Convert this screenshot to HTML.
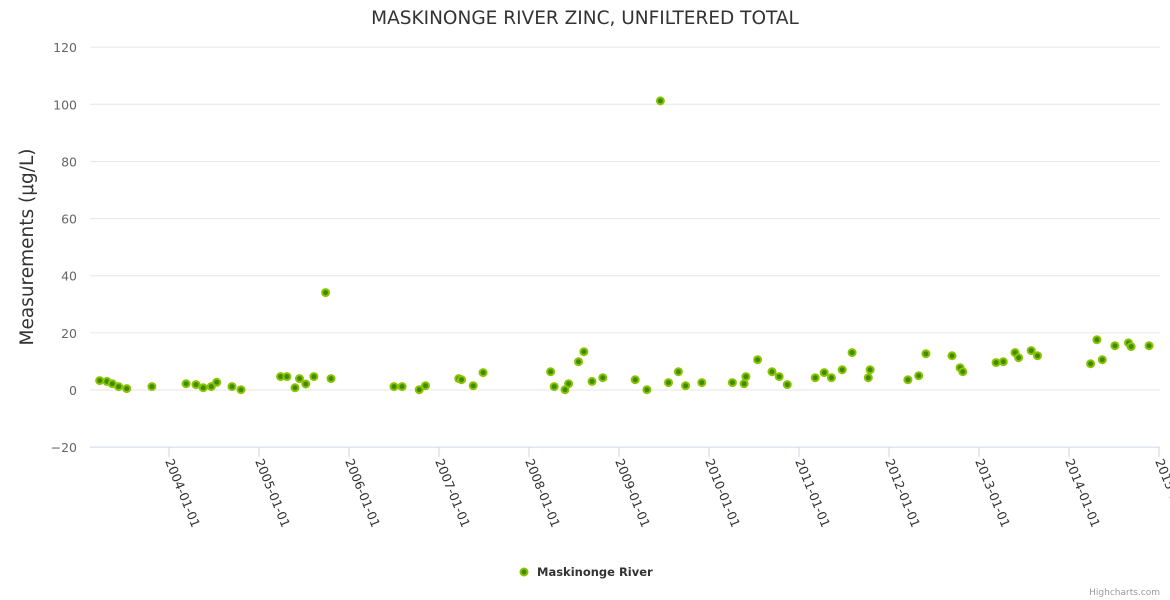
<!DOCTYPE html>
<html><head><meta charset="utf-8"><style>
html,body{margin:0;padding:0;background:#fff;}
svg{display:block;font-family:"DejaVu Sans","Liberation Sans",sans-serif;}
</style></head><body>
<svg id="chart" width="1170" height="600">
<text x="585" y="24" text-anchor="middle" font-size="18.5" fill="#333">MASKINONGE RIVER ZINC, UNFILTERED TOTAL</text>
<text transform="translate(33,247) rotate(-90)" text-anchor="middle" font-size="18.5" fill="#333">Measurements (μg/L)</text>
<g id="grid"></g><g id="xaxis"></g><g id="points"></g>
<g>
<circle cx="524" cy="572" r="3.5" fill="#3d8c00" stroke="#8cc300" stroke-width="2"/>
<text x="537" y="576" font-size="11.5" font-weight="bold" fill="#333">Maskinonge River</text>
</g>
<text x="1160" y="595" text-anchor="end" font-size="9" fill="#999">Highcharts.com</text>
</svg>
<script>
const years=[2003.23,2003.31,2003.37,2003.44,2003.53,2003.81,2004.19,2004.30,2004.38,2004.47,2004.53,2004.70,2004.80,2005.24,2005.31,2005.40,2005.45,2005.52,2005.61,2005.74,2005.80,2006.50,2006.59,2006.78,2006.85,2007.22,2007.25,2007.38,2007.49,2008.24,2008.28,2008.40,2008.44,2008.55,2008.61,2008.70,2008.82,2009.18,2009.31,2009.46,2009.55,2009.66,2009.74,2009.92,2010.26,2010.39,2010.41,2010.54,2010.70,2010.78,2010.87,2011.18,2011.28,2011.36,2011.48,2011.59,2011.77,2011.79,2012.21,2012.33,2012.41,2012.70,2012.79,2012.82,2013.19,2013.27,2013.40,2013.44,2013.58,2013.65,2014.24,2014.31,2014.37,2014.51,2014.66,2014.69,2014.89];
const values=[3.3,3.0,2.2,1.2,0.5,1.2,2.2,1.9,0.8,1.2,2.7,1.2,0.1,4.7,4.7,0.8,4.0,2.1,4.7,34.1,4.0,1.2,1.2,0.1,1.5,4.0,3.6,1.5,6.1,6.4,1.2,0.1,2.2,9.9,13.4,3.0,4.3,3.6,0.1,101.2,2.6,6.4,1.5,2.6,2.6,2.2,4.7,10.6,6.4,4.7,1.9,4.3,6.1,4.3,7.1,13.1,4.3,7.1,3.6,5.0,12.7,12.0,7.8,6.4,9.6,9.9,13.1,11.3,13.8,12.0,9.2,17.6,10.6,15.5,16.5,15.2,15.5];
const yTicks=[-20,0,20,40,60,80,100,120];
const xTickYears=[2004,2005,2006,2007,2008,2009,2010,2011,2012,2013,2014,2015];
const ns="http://www.w3.org/2000/svg";
function xs(y){return 169+(y-2004)*90;}
function ys(v){return 390-v*2.857;}
function mk(t,a,p){const e=document.createElementNS(ns,t);for(const k in a)e.setAttribute(k,a[k]);p.appendChild(e);return e;}
const grid=document.getElementById('grid'),xa=document.getElementById('xaxis'),pts=document.getElementById('points');
yTicks.forEach(v=>{
 const l=mk('line',{x1:90,x2:1160,y1:ys(v),y2:ys(v),stroke:v===-20?'#ccd6eb':'#e6e6e6','stroke-width':1},grid);
 
 
 const t=mk('text',{x:77,y:ys(v)+5,'text-anchor':'end','font-size':12.5,fill:'#666'},grid);
 t.textContent=(v<0?'−'+(-v):v);
 
 
});
xTickYears.forEach(y=>{
 const x=xs(y);
 const l=mk('line',{x1:x,x2:x,y1:447,y2:457,stroke:'#ccd6eb'},xa);
 
 
 const t=mk('text',{transform:`translate(${x-4},${461}) rotate(68)`,'font-size':12.5,fill:'#333'},xa);
 t.textContent=y+'-01-01';
 
 
});
years.forEach((y,i)=>{
 const c=mk('circle',{cx:xs(y),cy:ys(values[i]),r:3.5,fill:'#3d8c00',stroke:'#8cc300','stroke-width':2},pts);
 
 
});
</script>
</body></html>
